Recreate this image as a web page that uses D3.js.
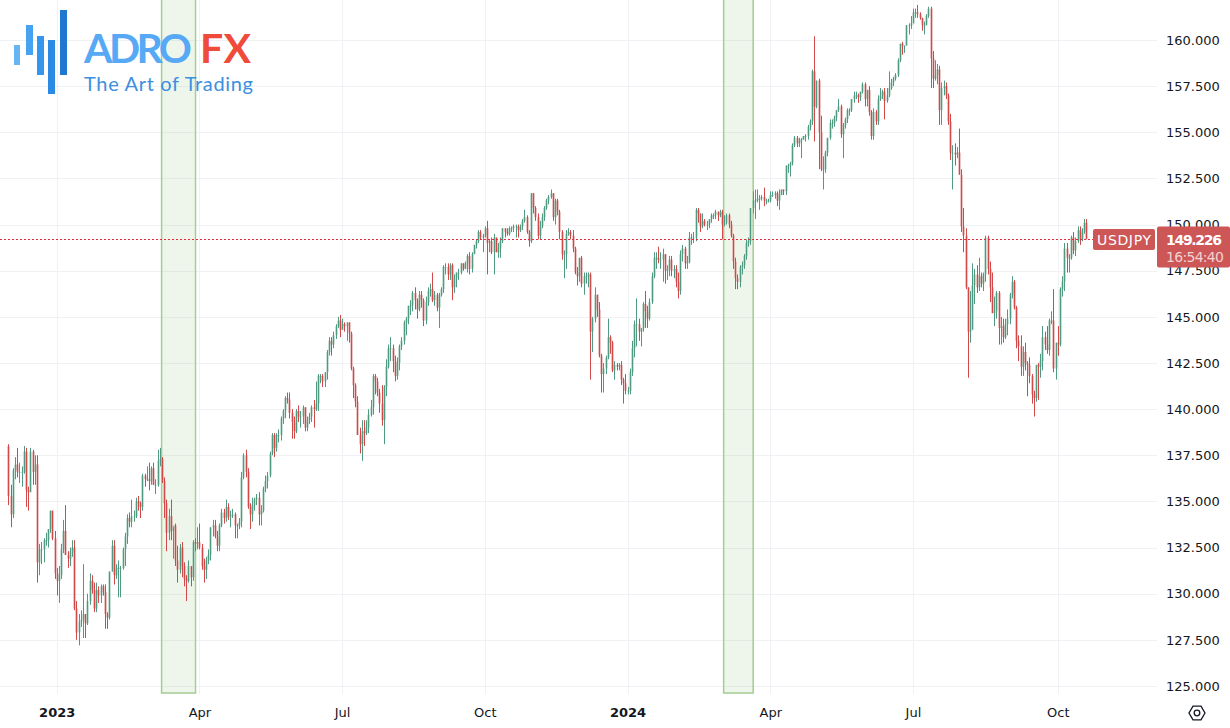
<!DOCTYPE html>
<html>
<head>
<meta charset="utf-8">
<script src="https://cdn.jsdelivr.net/npm/d3@7"></script>
<style>
  body { margin: 0; background: #fff; }
  svg { display: block; }
  text { font-family: "DejaVu Sans", sans-serif; }
</style>
</head>
<body>
<svg id="chart" width="1230" height="728"></svg>
<script>
// USDJPY daily bars, one row per weekday starting 2022-12-01: [open, high, low, close]
const startDate = "2022-12-01";
const usdjpy = [
  // Dec 2022
  [138.0,138.1,134.8,135.3],[135.3,135.9,133.6,134.3],[134.3,136.8,134.1,136.7],[136.7,137.4,136.2,137.0],
  [137.0,137.9,136.3,136.6],[136.6,137.1,136.0,136.6],[136.6,136.9,135.8,136.6],[136.6,138.0,136.5,137.7],
  [137.7,137.9,134.7,135.6],[135.6,135.8,134.5,135.5],[135.5,137.9,135.5,137.7],[137.7,137.8,135.9,136.6],
  [136.6,137.5,135.9,137.0],[137.0,137.5,130.6,131.7],[131.7,132.7,131.0,132.4],[132.4,132.8,131.6,132.4],
  [132.4,133.0,131.7,132.9],[132.9,133.3,132.6,132.9],[132.9,133.5,132.5,133.5],[133.5,134.5,133.3,134.5],
  [134.5,134.5,132.9,133.0],[133.0,133.4,130.8,131.1],
  // Jan 2023
  [131.1,131.4,129.9,130.7],[130.7,131.5,129.5,131.0],[131.0,132.7,130.8,132.4],[132.4,134.0,132.2,133.4],
  [133.4,134.8,132.1,132.1],[132.1,132.3,131.4,131.9],[131.9,132.5,131.5,132.3],[132.3,132.9,132.0,132.5],
  [132.5,132.9,129.1,129.2],[129.2,129.6,127.5,127.9],[127.9,128.9,127.2,128.5],[128.5,129.1,128.2,128.6],
  [128.6,131.6,127.6,128.9],[128.9,128.9,127.6,128.4],[128.4,130.0,128.3,129.6],[129.6,131.1,129.4,130.7],
  [130.7,131.0,130.0,130.2],[130.2,130.6,129.0,129.2],[129.2,130.6,129.0,130.2],[130.2,130.4,129.5,129.9],
  [129.9,130.5,129.5,130.4],[130.4,130.5,129.9,130.1],
  // Feb 2023
  [130.1,130.5,128.1,128.9],[128.9,129.0,128.1,128.7],[128.7,131.2,128.6,131.2],[131.2,132.9,131.2,132.6],
  [132.6,132.9,130.5,131.0],[131.0,131.6,130.8,131.4],[131.4,131.8,129.8,131.4],[131.4,131.5,129.8,131.4],
  [131.4,132.5,131.3,132.4],[132.4,133.3,131.5,133.1],[133.1,134.3,132.7,134.1],[134.1,134.4,133.6,133.9],
  [133.9,135.1,133.6,134.2],[134.2,134.5,133.9,134.2],[134.2,135.2,134.1,135.0],[135.0,135.3,134.5,134.9],
  [134.9,135.0,134.1,134.7],[134.7,136.5,134.5,136.4],[136.4,136.5,135.8,136.2],[136.2,136.9,136.1,136.2],
  // Mar 2023
  [136.2,137.1,135.6,136.1],[136.1,136.9,135.9,136.8],[136.8,137.1,135.9,135.9],[135.9,136.2,135.4,135.9],
  [135.9,137.8,135.8,137.2],[137.2,137.9,136.9,137.3],[137.3,137.4,136.0,136.1],[136.1,136.3,134.1,134.9],
  [134.9,135.1,132.3,133.3],[133.3,134.6,132.9,134.2],[134.2,135.1,132.9,133.4],[133.4,133.6,131.9,133.7],
  [133.7,133.8,131.5,131.8],[131.8,132.6,130.6,131.3],[131.3,132.7,131.1,132.5],[132.5,132.8,130.9,131.5],
  [131.5,131.7,130.4,130.8],[130.8,131.0,129.6,130.7],[130.7,131.8,130.6,131.5],[131.5,131.5,130.4,130.9],
  [130.9,132.9,130.7,132.8],[132.8,133.0,132.3,132.7],[132.7,133.6,132.4,132.8],
  // Apr 2023
  [132.8,133.8,132.4,132.5],[132.5,132.7,131.3,131.5],[131.5,131.9,130.6,131.3],[131.3,132.0,130.8,131.8],
  [131.8,132.4,131.6,132.1],[132.1,133.6,131.8,133.6],[133.6,134.0,133.1,133.7],[133.7,134.0,133.0,133.1],
  [133.1,133.4,132.3,132.6],[132.6,133.8,132.3,133.7],[133.7,134.6,133.6,134.4],[134.4,134.6,133.8,134.1],
  [134.1,135.1,133.9,134.7],[134.7,134.9,134.0,134.2],[134.2,134.5,133.6,134.2],[134.2,134.6,134.1,134.3],
  [134.3,134.4,133.0,133.7],[133.7,133.8,133.0,133.7],[133.7,134.1,133.5,133.9],[133.9,136.6,133.6,136.3],
  // May 2023
  [136.3,137.6,136.2,137.5],[137.5,137.8,136.3,136.6],[136.6,136.8,134.6,134.7],[134.7,134.9,133.5,134.3],
  [134.3,135.2,133.9,134.8],[134.8,135.2,134.5,135.1],[135.1,135.4,134.8,135.2],[135.2,135.5,133.7,134.3],
  [134.3,134.8,133.7,134.5],[134.5,135.8,134.4,135.7],[135.7,136.4,135.5,136.1],[136.1,136.6,135.7,136.4],
  [136.4,137.7,136.3,137.6],[137.6,138.7,137.5,138.6],[138.6,138.7,137.4,137.9],[137.9,138.7,137.7,138.6],
  [138.6,138.9,138.2,138.6],[138.6,139.6,138.3,139.5],[139.5,140.0,139.2,139.9],[139.9,140.7,139.5,140.6],
  [140.6,140.9,140.3,140.5],[140.5,140.9,139.5,139.8],[139.8,140.0,138.4,139.3],
  // Jun 2023
  [139.3,139.6,138.4,138.8],[138.8,140.0,138.7,139.9],[139.9,140.2,139.3,139.6],[139.6,139.9,139.0,139.6],
  [139.6,140.2,139.2,140.1],[140.1,140.1,138.8,139.0],[139.0,139.6,138.8,139.4],[139.4,139.8,139.2,139.6],
  [139.6,140.2,139.3,140.1],[140.1,140.5,139.0,140.0],[140.0,141.5,139.9,140.3],[140.3,141.9,139.9,141.8],
  [141.8,141.9,141.4,141.8],[141.8,141.9,141.2,141.5],[141.5,142.0,141.2,142.0],[142.0,143.2,141.6,143.1],
  [143.1,143.9,142.9,143.7],[143.7,143.9,142.9,143.5],[143.5,144.2,143.3,144.0],[144.0,144.6,143.8,144.5],
  [144.5,145.0,144.4,144.8],[144.8,145.1,143.9,144.3],
  // Jul 2023
  [144.3,144.9,144.3,144.6],[144.6,144.7,144.2,144.5],[144.5,144.7,143.7,144.7],[144.7,144.7,143.6,144.1],
  [144.1,144.2,142.1,142.2],[142.2,142.3,140.6,141.3],[141.3,141.4,140.1,140.4],[140.4,140.7,138.6,138.6],
  [138.6,139.0,137.6,138.1],[138.1,139.4,137.2,138.8],[138.8,139.4,138.0,138.7],[138.7,139.4,138.6,139.0],
  [139.0,140.0,138.7,139.7],[139.7,140.5,139.6,140.1],[140.1,141.9,139.7,141.8],[141.8,141.9,140.8,141.5],
  [141.5,141.7,140.7,140.9],[140.9,141.1,139.8,140.3],[140.3,141.3,139.1,139.4],[139.4,141.3,138.1,141.2],
  [141.2,142.7,140.7,142.3],
  // Aug 2023
  [142.3,143.5,142.2,143.3],[143.3,143.9,142.6,143.3],[143.3,143.5,142.0,142.6],[142.6,142.9,141.5,141.8],
  [141.8,142.8,141.6,142.5],[142.5,143.5,142.1,143.4],[143.4,143.9,143.2,143.7],[143.7,144.8,143.5,144.7],
  [144.7,145.0,144.0,144.9],[144.9,145.6,144.6,145.6],[145.6,145.9,145.1,145.6],[145.6,146.4,145.3,146.3],
  [146.3,146.6,145.4,145.9],[145.9,146.0,144.9,145.4],[145.4,146.4,145.3,146.2],[146.2,146.4,145.5,145.9],
  [145.9,146.0,144.5,144.8],[144.8,146.1,144.6,145.8],[145.8,146.6,145.6,146.4],[146.4,146.8,146.1,146.5],
  [146.5,147.4,145.8,145.9],[145.9,146.4,145.6,146.2],[146.2,146.3,145.3,145.5],
  // Sep 2023
  [145.5,146.3,144.4,146.2],[146.2,146.6,146.1,146.5],[146.5,147.8,146.3,147.7],[147.7,147.9,147.3,147.7],
  [147.7,147.9,147.0,147.3],[147.3,147.9,147.0,147.8],[147.8,147.9,145.9,146.6],[146.6,147.3,146.3,147.1],
  [147.1,147.4,146.6,147.4],[147.4,147.6,147.0,147.4],[147.4,147.9,147.3,147.9],[147.9,147.9,147.5,147.6],
  [147.6,148.0,147.6,147.9],[147.9,148.4,147.4,148.3],[148.3,148.5,147.3,147.6],[147.6,148.5,147.4,148.4],
  [148.4,148.9,148.4,148.9],[148.9,149.2,148.7,149.1],[149.1,149.7,149.0,149.6],[149.6,149.7,149.2,149.3],
  [149.3,149.5,148.5,149.4],
  // Oct 2023
  [149.4,149.9,149.3,149.8],[149.8,150.2,147.3,149.0],[149.0,149.2,148.5,149.1],[149.1,149.3,148.4,148.5],
  [148.5,149.5,147.3,149.3],[149.3,149.3,148.5,148.5],[148.5,149.0,148.2,148.7],[148.7,149.3,148.2,149.1],
  [149.1,149.8,149.0,149.8],[149.8,149.8,149.3,149.6],[149.6,149.8,149.4,149.5],[149.5,149.9,149.4,149.8],
  [149.8,149.9,149.6,149.8],[149.8,150.0,149.6,149.9],[149.9,150.0,149.3,149.9],[149.9,150.0,149.3,149.7],
  [149.7,150.0,149.6,149.9],[149.9,150.3,149.7,150.2],[150.2,150.8,150.1,150.4],[150.4,150.5,149.5,149.6],
  [149.6,149.7,148.8,149.1],[149.1,151.7,149.0,151.7],
  // Nov 2023
  [151.7,151.7,150.6,150.9],[150.9,151.0,150.2,150.4],[150.4,150.6,149.2,149.4],[149.4,150.2,149.2,149.9],
  [149.9,150.6,149.8,150.4],[150.4,151.0,150.2,150.9],[150.9,151.4,150.8,151.3],[151.3,151.6,151.1,151.5],
  [151.5,151.9,151.4,151.7],[151.7,151.7,150.2,150.4],[150.4,151.4,150.0,151.3],[151.3,151.4,150.5,150.7],
  [150.7,150.8,149.2,149.6],[149.6,149.7,148.1,148.4],[148.4,148.6,147.1,148.4],[148.4,149.7,147.6,149.5],
  [149.5,149.8,149.4,149.6],[149.6,149.7,149.2,149.4],[149.4,149.7,148.5,148.7],[148.7,148.8,147.3,147.4],
  [147.4,147.7,146.7,147.2],[147.2,148.2,146.9,148.2],
  // Dec 2023
  [148.2,148.3,146.6,146.8],[146.8,147.4,146.2,147.2],[147.2,147.4,146.8,147.2],[147.2,147.4,146.6,147.3],
  [147.3,147.4,141.6,144.2],[144.2,145.0,143.1,144.9],[144.9,146.6,144.7,146.2],[146.2,146.2,145.0,145.4],
  [145.4,145.8,142.8,142.9],[142.9,143.0,140.9,141.9],[141.9,142.5,140.9,142.2],[142.2,142.9,141.9,142.8],
  [142.8,144.9,142.7,143.9],[143.9,144.0,143.0,143.6],[143.6,143.7,142.0,142.1],[142.1,142.6,141.6,142.4],
  [142.4,142.5,142.1,142.3],[142.3,142.5,142.1,142.4],[142.4,142.6,141.3,141.6],[141.6,141.7,140.3,141.4],
  [141.4,141.9,140.8,141.0],
  // Jan 2024
  [141.0,141.2,140.8,141.0],[141.0,142.2,140.8,142.0],[142.0,143.7,141.8,143.3],[143.3,144.8,142.8,144.6],
  [144.6,146.0,143.4,144.6],[144.6,144.9,143.7,144.2],[144.2,144.4,143.4,144.4],[144.4,145.8,144.2,145.7],
  [145.7,146.4,144.4,145.3],[145.3,145.6,144.4,144.9],[144.9,146.0,144.8,145.8],[145.8,147.4,145.7,147.2],
  [147.2,148.5,147.1,148.2],[148.2,148.5,147.6,148.2],[148.2,148.8,147.9,148.1],[148.1,148.5,147.6,148.1],
  [148.1,148.7,146.9,148.4],[148.4,148.4,146.8,147.5],[147.5,147.8,147.0,147.6],[147.6,148.3,147.2,148.1],
  [148.1,148.3,147.2,147.5],[147.5,147.8,147.1,147.6],[147.6,147.8,146.6,146.9],
  // Feb 2024
  [146.9,147.4,146.0,146.4],[146.4,148.6,146.2,148.4],[148.4,148.9,148.0,148.7],[148.7,148.8,147.6,147.9],
  [147.9,148.3,147.6,148.0],[148.0,149.6,147.9,149.3],[149.3,149.5,148.9,149.3],[149.3,149.6,149.0,149.3],
  [149.3,150.9,149.1,150.8],[150.8,150.9,150.1,150.6],[150.6,150.6,149.6,149.9],[149.9,150.6,149.8,150.2],
  [150.2,150.3,149.9,150.0],[150.0,150.2,149.7,150.0],[150.0,150.3,149.8,150.3],[150.3,150.6,150.1,150.5],
  [150.5,150.6,150.3,150.5],[150.5,150.8,150.3,150.7],[150.7,150.7,150.2,150.5],[150.5,150.8,150.4,150.7],
  [150.7,150.8,149.2,150.0],
  // Mar 2024
  [150.0,150.5,149.9,150.1],[150.1,150.6,150.0,150.5],[150.5,150.6,149.8,150.0],[150.0,150.2,149.3,149.4],
  [149.4,149.5,147.6,148.0],[148.0,148.2,146.5,147.1],[147.1,147.3,146.5,146.9],[146.9,147.8,146.6,147.7],
  [147.7,148.0,147.3,147.8],[147.8,148.4,147.6,148.3],[148.3,149.2,148.1,149.0],[149.0,149.3,148.8,149.1],
  [149.1,150.9,148.9,150.9],[150.9,151.8,150.6,151.3],[151.3,151.9,150.3,151.3],[151.3,151.9,151.2,151.4],
  [151.4,151.6,150.8,151.4],[151.4,151.6,151.3,151.5],[151.5,152.0,151.0,151.3],[151.3,151.4,151.1,151.3],
  [151.3,151.4,151.2,151.3],
  // Apr 2024
  [151.3,151.8,151.2,151.6],[151.6,151.8,151.5,151.6],[151.6,151.8,151.4,151.7],[151.7,151.8,151.0,151.3],
  [151.3,151.9,150.8,151.6],[151.6,151.9,151.6,151.9],[151.9,151.9,151.6,151.8],[151.8,153.2,151.6,153.2],
  [153.2,153.3,152.8,153.2],[153.2,153.4,152.6,153.3],[153.3,154.4,153.2,154.3],[154.3,154.8,154.2,154.7],
  [154.7,154.8,154.2,154.4],[154.4,154.7,154.2,154.6],[154.6,154.7,153.6,154.6],[154.6,154.8,154.6,154.8],
  [154.8,154.9,154.5,154.8],[154.8,155.4,154.6,155.3],[155.3,155.7,155.1,155.6],[155.6,158.4,155.4,158.3],
  [158.3,160.2,154.5,156.4],[156.4,157.8,156.3,157.8],
  // May 2024
  [157.8,157.9,153.0,155.0],[155.0,155.9,152.9,153.0],[153.0,153.7,151.9,153.0],[153.0,154.0,152.8,153.9],
  [153.9,154.7,153.7,154.7],[154.7,155.7,154.6,155.5],[155.5,155.7,155.2,155.5],[155.5,155.9,155.3,155.8],
  [155.8,156.2,155.6,156.2],[156.2,156.8,156.1,156.4],[156.4,156.5,154.7,154.9],[154.9,155.5,153.6,155.4],
  [155.4,155.8,155.2,155.7],[155.7,156.3,155.5,156.2],[156.2,156.3,155.9,156.2],[156.2,156.8,156.1,156.8],
  [156.8,157.2,156.6,157.0],[157.0,157.2,156.8,157.0],[157.0,157.1,156.6,156.9],[156.9,157.2,156.7,157.2],
  [157.2,157.7,157.1,157.6],[157.6,157.7,156.4,156.8],[156.8,157.3,156.4,157.3],
  // Jun 2024
  [157.3,157.5,155.9,156.1],[156.1,156.2,154.6,154.8],[154.8,156.3,154.6,156.1],[156.1,156.2,155.4,155.6],
  [155.6,157.0,155.4,156.8],[156.8,157.4,156.7,157.0],[157.0,157.3,156.8,157.2],[157.2,157.4,155.7,156.7],
  [156.7,157.4,156.6,157.0],[157.0,158.3,156.9,157.4],[157.4,157.9,157.3,157.7],[157.7,158.0,157.5,157.9],
  [157.9,158.2,157.8,158.1],[158.1,159.0,158.0,158.9],[158.9,159.8,158.8,159.8],[159.8,159.9,159.2,159.7],
  [159.7,159.7,159.3,159.7],[159.7,160.8,159.7,160.8],[160.8,160.9,160.3,160.8],[160.8,161.3,160.6,160.9],
  // Jul 2024
  [160.9,161.7,160.9,161.5],[161.5,161.7,161.2,161.5],[161.5,161.9,161.2,161.4],[161.4,161.5,161.1,161.2],
  [161.2,161.2,160.5,160.8],[160.8,161.0,160.3,160.8],[160.8,161.4,160.8,161.3],[161.3,161.8,161.2,161.7],
  [161.7,161.8,157.4,159.0],[159.0,159.4,157.4,157.9],[157.9,158.9,157.8,158.1],[158.1,158.7,157.6,158.4],
  [158.4,158.6,155.4,156.2],[156.2,157.7,155.4,157.4],[157.4,157.8,157.0,157.5],[157.5,157.7,156.8,157.0],
  [157.0,157.1,155.4,155.6],[155.6,156.0,153.5,153.9],[153.9,154.3,151.9,153.9],[153.9,154.4,153.2,153.8],
  [153.8,154.2,153.6,153.9],[153.9,155.2,152.7,152.7],[152.7,153.0,149.6,149.9],
  // Aug 2024
  [149.9,150.9,148.5,149.4],[149.4,149.8,146.5,146.6],[146.6,146.6,141.7,144.2],[144.2,146.4,143.6,144.3],
  [144.3,147.9,144.3,146.7],[146.7,147.6,145.7,147.3],[147.3,147.8,146.3,146.6],[146.6,148.2,146.4,147.2],
  [147.2,147.4,146.6,146.8],[146.8,147.4,146.4,147.3],[147.3,149.4,146.9,149.3],[149.3,149.4,147.3,147.6],
  [147.6,148.0,145.8,146.6],[146.6,147.4,145.2,145.2],[145.2,146.1,144.5,145.3],[145.3,146.4,144.9,146.3],
  [146.3,146.4,143.5,144.4],[144.4,145.0,143.5,144.5],[144.5,144.9,143.6,143.9],[143.9,144.9,143.8,144.6],
  [144.6,145.4,144.0,144.9],[144.9,146.3,144.6,146.2],
  // Sep 2024
  [146.2,147.2,146.0,146.9],[146.9,147.0,145.4,145.5],[145.5,145.6,143.3,143.7],[143.7,144.0,142.6,143.4],
  [143.4,144.0,141.8,142.3],[142.3,143.4,141.8,143.1],[143.1,143.6,142.1,142.5],[142.5,142.6,140.7,142.4],
  [142.4,142.8,141.4,141.8],[141.8,141.9,140.3,140.8],[140.8,141.0,139.6,140.6],[140.6,142.4,140.4,142.4],
  [142.4,142.5,140.5,142.3],[142.3,143.0,141.7,142.6],[142.6,144.5,142.1,143.9],[143.9,144.2,143.2,143.5],
  [143.5,144.5,143.0,143.2],[143.2,144.9,142.9,144.8],[144.8,145.3,144.6,144.8],[144.8,146.5,142.0,142.2],
  [142.2,143.6,141.6,143.6],
  // Oct 2024
  [143.6,144.5,142.9,143.5],[143.5,146.6,143.4,146.5],[146.5,147.2,146.1,146.9],[146.9,149.0,146.4,148.7],
  [148.7,149.0,147.4,148.2],[148.2,148.4,147.4,148.2],[148.2,149.4,148.1,149.3],[149.3,149.6,148.4,148.6],
  [148.6,149.3,148.3,149.1],[149.1,149.9,149.0,149.7],[149.7,149.9,148.9,149.2],[149.2,149.8,149.1,149.6],
  [149.6,150.3,149.5,150.1],[150.1,150.3,149.2,149.226]
];

const priceTicks = [125, 127.5, 130, 132.5, 135, 137.5, 140, 142.5, 145, 147.5, 150, 152.5, 155, 157.5, 160];
const monthLabels = ["Jan","Feb","Mar","Apr","May","Jun","Jul","Aug","Sep","Oct","Nov","Dec"];
const labelMonths = [0, 3, 6, 9];
const zones = [["2023-03-09", "2023-03-30"], ["2024-03-01", "2024-03-20"]];
const symbol = "USDJPY";
const lastPrice = 149.226;
const countdown = "16:54:40";

const plotRight = 1157, plotBottom = 694;
const upWick = "#4f9a80", upBody = "#8fc3ae", downWick = "#d34848", downBody = "#e08a8a";

const svg = d3.select("#chart");

// weekday calendar for the bars
const fmt = d3.timeFormat("%Y-%m-%d");
const dates = [];
let day = d3.timeParse("%Y-%m-%d")(startDate);
while (dates.length < usdjpy.length) {
  const wd = day.getDay();
  if (wd !== 0 && wd !== 6) dates.push(new Date(day));
  day = d3.timeDay.offset(day, 1);
}
const bars = usdjpy.map((d, i) => ({ i, date: dates[i], o: d[0], h: d[1], l: d[2], c: d[3] }));

const x = d3.scaleLinear().domain([0, bars.length - 1]).range([8.4, 1086.4]);
const y = d3.scaleLinear().domain([125, 160]).range([686, 40]);

// first bar of each quarter
const tickIdx = bars.filter((b, i) => i > 0 && b.date.getMonth() !== bars[i - 1].date.getMonth()
  && labelMonths.includes(b.date.getMonth())).map(b => b.i);

// grid
const grid = svg.append("g");
grid.selectAll("line.h").data(priceTicks).join("line")
  .attr("x1", 0).attr("x2", plotRight)
  .attr("y1", d => Math.round(y(d)) + 0.5).attr("y2", d => Math.round(y(d)) + 0.5)
  .attr("stroke", "#f0f1f4").attr("stroke-width", 1);
grid.selectAll("line.v").data(tickIdx).join("line")
  .attr("x1", d => Math.round(x(d)) + 0.5).attr("x2", d => Math.round(x(d)) + 0.5)
  .attr("y1", 0).attr("y2", plotBottom)
  .attr("stroke", "#f0f1f4").attr("stroke-width", 1);

// highlighted periods
const idxOf = s => bars.findIndex(b => fmt(b.date) === s);
svg.append("g").selectAll("rect").data(zones).join("rect")
  .attr("x", d => x(idxOf(d[0])) - 0.5)
  .attr("width", d => x(idxOf(d[1])) - x(idxOf(d[0])) + 1)
  .attr("y", -2).attr("height", plotBottom + 1)
  .attr("fill", "rgba(150,200,130,0.16)")
  .attr("stroke", "#a3cd92").attr("stroke-width", 1.5);

// candles
const cg = svg.append("g");
cg.selectAll("rect").data(bars).join("rect")
  .attr("x", d => Math.round(x(d.i)) - 0.5)
  .attr("width", 2)
  .attr("y", d => y(Math.max(d.o, d.c)))
  .attr("height", d => Math.max(1, Math.abs(y(d.o) - y(d.c))))
  .attr("fill", d => d.c >= d.o ? upBody : downBody);
cg.selectAll("line").data(bars).join("line")
  .attr("x1", d => Math.round(x(d.i)) + 0.5).attr("x2", d => Math.round(x(d.i)) + 0.5)
  .attr("y1", d => y(d.h)).attr("y2", d => y(d.l))
  .attr("stroke", d => d.c >= d.o ? upWick : downWick).attr("stroke-width", 1);

// last price line (dotted red)
const py = Math.round(y(lastPrice)) + 0.5;
svg.append("line").attr("x1", 0).attr("x2", 1093).attr("y1", py).attr("y2", py)
  .attr("stroke", "#e8283a").attr("stroke-width", 1).attr("stroke-dasharray", "2,2");

// price axis
const yAxis = svg.append("g").attr("transform", `translate(1166,0)`)
  .call(d3.axisRight(y).tickValues(priceTicks).tickFormat(d3.format(".3f")).tickSize(0).tickPadding(0));
yAxis.select(".domain").remove();
yAxis.selectAll("text").attr("font-size", 13).attr("fill", "#131722")
  .style("font-family", "DejaVu Sans, sans-serif");

// time axis
const xAxis = svg.append("g").attr("transform", `translate(0,708)`)
  .call(d3.axisBottom(x).tickValues(tickIdx).tickSize(0).tickPadding(0)
    .tickFormat(i => bars[i].date.getMonth() === 0 ? bars[i].date.getFullYear() : monthLabels[bars[i].date.getMonth()]));
xAxis.select(".domain").remove();
xAxis.selectAll("text").attr("font-size", 13).attr("fill", "#131722")
  .style("font-family", "DejaVu Sans, sans-serif")
  .attr("font-weight", i => bars[i].date.getMonth() === 0 ? "bold" : "normal");

// symbol and price labels
const lab = svg.append("g");
lab.append("rect").attr("x", 1093).attr("y", py - 10.5).attr("width", 62).attr("height", 21)
  .attr("rx", 2).attr("fill", "#cd5656");
lab.append("text").attr("x", 1124).attr("y", py + 5).attr("text-anchor", "middle")
  .attr("font-size", 14).attr("font-weight", 500).attr("textLength", 54).attr("fill", "#fff").text(symbol);
lab.append("rect").attr("x", 1157).attr("y", py - 13).attr("width", 73).attr("height", 41)
  .attr("rx", 2).attr("fill", "#cd5656");
lab.append("text").attr("x", 1166).attr("y", py + 5).attr("font-size", 14).attr("font-weight", "bold")
  .attr("textLength", 56).attr("fill", "#fff").text(d3.format(".3f")(lastPrice));
lab.append("text").attr("x", 1166).attr("y", py + 22).attr("font-size", 14)
  .attr("textLength", 58).attr("fill", "#f3d2d2").text(countdown);

// settings icon
const hex = d3.range(6).map(k => [1197 + 8 * Math.cos(k * Math.PI / 3), 713 + 8 * Math.sin(k * Math.PI / 3)]);
svg.append("path").attr("d", "M" + hex.join("L") + "Z").attr("fill", "none")
  .attr("stroke", "#131722").attr("stroke-width", 1.3);
svg.append("circle").attr("cx", 1197).attr("cy", 713).attr("r", 2.8).attr("fill", "none")
  .attr("stroke", "#131722").attr("stroke-width", 1.3);

// logo
const logo = svg.append("g");
const logoBars = [[14, 45, 6, 20, "#68b5f4"], [26, 25, 7, 30, "#45a3f2"], [37, 36, 7, 39, "#3497ed"],
                  [48, 40, 7, 54, "#2b8be4"], [60, 10, 7, 65, "#1f77cf"]];
logo.selectAll("rect").data(logoBars).join("rect")
  .attr("x", d => d[0]).attr("y", d => d[1]).attr("width", d => d[2]).attr("height", d => d[3])
  .attr("fill", d => d[4]);
logo.append("text").attr("x", 84).attr("y", 63).attr("font-size", 41).attr("font-weight", "bold")
  .style("font-family", "Lato, sans-serif").attr("textLength", 108).attr("fill", "#57a9f5").text("ADRO");
logo.append("text").attr("x", 200).attr("y", 63).attr("font-size", 41).attr("font-weight", "bold")
  .style("font-family", "Lato, sans-serif").attr("textLength", 51).attr("fill", "#f04a3a").text("FX");
logo.append("text").attr("x", 84).attr("y", 91).attr("font-size", 20)
  .style("font-family", "Lato, sans-serif").attr("textLength", 169).attr("fill", "#3c8fe0").text("The Art of Trading");
</script>
</body>
</html>
